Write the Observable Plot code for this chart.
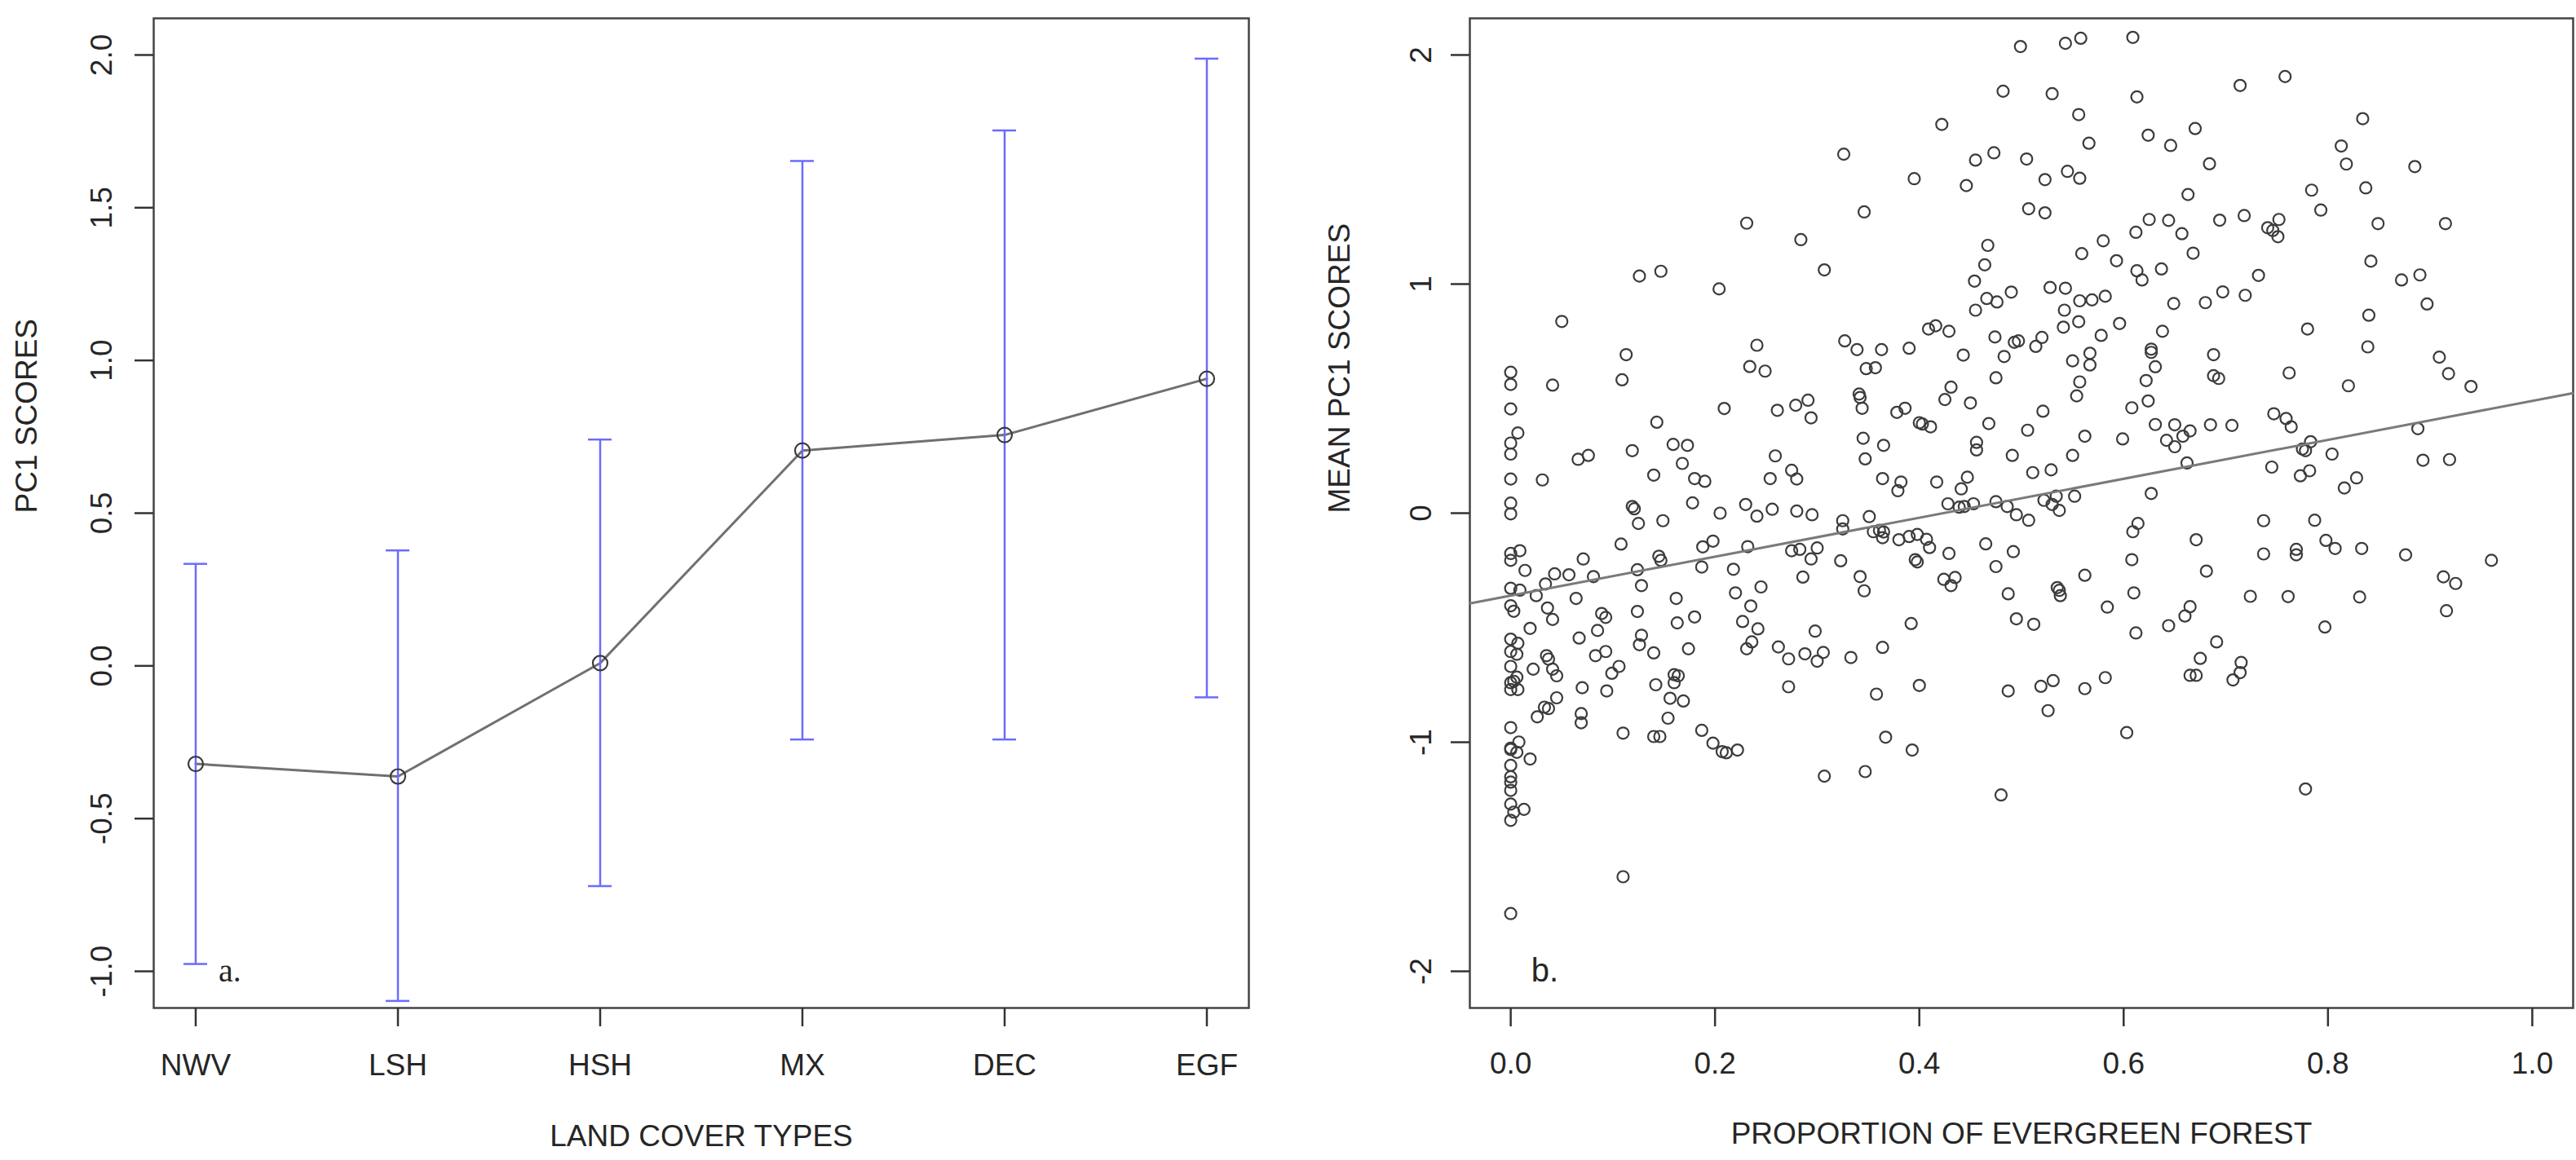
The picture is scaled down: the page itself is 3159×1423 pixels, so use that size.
<!DOCTYPE html>
<html><head><meta charset="utf-8">
<script src="https://cdn.jsdelivr.net/npm/d3@7"></script>
<script src="https://cdn.jsdelivr.net/npm/@observablehq/plot@0.6"></script>
<style>
html,body{margin:0;padding:0;background:#fff;}
#wrap{position:relative;width:3159px;height:1423px;overflow:hidden;background:#fff;}
#pa{position:absolute;left:0;top:0;width:1600px;height:1423px;}
#pb{position:absolute;left:1600px;top:0;width:1559px;height:1423px;}
</style></head>
<body><div id="wrap"><div id="pa"></div><div id="pb"></div></div>
<script>
// ---- Panel a: PC1 scores by land cover type ----
const landCover = ["NWV","LSH","HSH","MX","DEC","EGF"];
const pc1Mean  = [-0.321,-0.362,0.009,0.705,0.756,0.940];
const pc1Lower = [-0.976,-1.097,-0.721,-0.241,-0.241,-0.103];
const pc1Upper = [0.334,0.378,0.741,1.653,1.753,1.988];
const leftYTicks = [-1,-0.5,0,0.5,1,1.5,2];

// ---- Panel b: mean PC1 score vs proportion of evergreen forest ----
const evergreen = [
 0.326,0.231,0.284,0.307,0.126,0.147,0.204,0.050,0.241,0.327,
 0.499,0.543,0.558,0.609,0.482,0.530,0.613,0.556,0.422,0.624,
 0.566,0.646,0.473,0.455,0.505,0.395,0.446,0.545,0.557,0.523,
 0.663,0.346,0.507,0.523,0.625,0.644,0.612,0.657,0.580,0.467,
 0.559,0.593,0.464,0.613,0.618,0.637,0.454,0.528,0.543,0.466,
 0.476,0.490,0.582,0.569,0.557,0.542,0.649,0.455,0.556,0.541,
 0.596,0.409,0.416,0.429,0.474,0.497,0.493,0.520,0.578,0.638,
 0.714,0.758,0.670,0.834,0.813,0.818,0.885,0.684,0.784,0.837,
 0.694,0.718,0.752,0.741,0.746,0.751,0.793,0.849,0.915,0.668,
 0.842,0.732,0.697,0.719,0.680,0.872,0.890,0.897,0.840,0.780,
 0.113,0,0,0.041,0.109,0.234,0.249,0,0.209,0.261,
 0.279,0.291,0.294,0.143,0.007,0,0,0.066,0.076,0.119,
 0.159,0.173,0.168,0.259,0,0.031,0.140,0.180,0.190,0.254,
 0.275,0.280,0,0,0.119,0.121,0.125,0.149,0.178,0.205,
 0.230,0.241,0.256,0.280,0.295,0.325,0.325,0.108,0,0.009,
 0,0.071,0.145,0.147,0.188,0.198,0.232,0.275,0.283,0.300,
 0.294,0.323,0.014,0.043,0.057,0.081,0.124,0.187,0.218,0.286,
 0,0.009,0.034,0.025,0.064,0.128,0.162,0.220,0.245,0.235,
 0,0.003,0.036,0.041,0.089,0.093,0.124,0.180,0.163,0.227,
 0.242,0.298,0.019,0.085,0,0.007,0,0.006,0.067,0.128,
 0.126,0.236,0.231,0.262,0.272,0.288,0.306,0.300,0.035,0.037,
 0.083,0.093,0.140,0.174,
 0.339,0.363,0.390,0.443,0.483,0.514,0.567,0.627,0.627,0.348,
 0.357,0.475,0.550,0.567,0.631,0.341,0.342,0.344,0.378,0.386,
 0.400,0.403,0.411,0.431,0.425,0.450,0.468,0.521,0.557,0.554,
 0.622,0.624,0.608,0.631,0.650,0.642,0.650,0.658,0.345,0.365,
 0.347,0.456,0.456,0.506,0.562,0.599,0.491,0.550,0.662,0.364,
 0.382,0.379,0.417,0.447,0.441,0.511,0.529,0.552,0.627,0.351,
 0.428,0.439,0.444,0.453,0.475,0.486,0.495,0.507,0.522,0.534,
 0.530,0.537,0.614,0.609,0.355,0.361,0.365,0.364,0.380,0.390,
 0.398,0.407,0.410,0.465,0.492,0.429,0.396,0.398,0.475,0.608,
 0.342,0.346,0.424,0.435,0.431,0.487,0.562,0.535,0.537,0.538,
 0.610,0.584,0.660,0.392,0.495,0.512,0.612,0.644,0.364,0.333,
 0.688,0.839,0.909,0.688,0.693,0.762,0.820,0.918,0.940,0.665,
 0.685,0.706,0.747,0.759,0.764,0.783,0.778,0.775,0.804,0.888,
 0.745,0.773,0.782,0.816,0.828,0.893,0.919,0.737,0.787,0.671,
 0.798,0.807,0.833,0.737,0.769,0.769,0.876,0.960,0.681,0.913,
 0.925,0.724,0.761,0.831,0.916,0.665,0.797,0.691,0.675,0.715,
 0,0.022,0.041,0.045,0.106,0.099,0,0.003,0.006,0,
 0.007,0.070,0.094,0.045,0.033,0.037,0.026,0.069,0.069,0.142,
 0.160,0.164,0.160,0.156,0.169,0.154,0.110,0.140,0.146,0.187,
 0.198,0.207,0.211,0.222,0.272,0.307,0,0.008,0,0,
 0.006,0.019,0,0,0,0,0,0.003,0.013,0,
 0.110,0,
 0.358,0.400,0.487,0.519,0.531,0.562,0.582,0.526,0.603,0.367,0.393,0.347,0.480,
 0.665,0.671,0.714,0.707,0.778
];
const meanPC1 = [
 1.567,1.266,1.194,1.062,1.035,1.056,0.979,0.837,0.733,0.752,
 2.037,2.051,2.073,2.077,1.842,1.831,1.817,1.740,1.697,1.650,
 1.615,1.605,1.573,1.541,1.546,1.460,1.430,1.492,1.462,1.456,
 1.391,1.315,1.329,1.311,1.282,1.278,1.226,1.220,1.189,1.169,
 1.133,1.102,1.084,1.058,1.018,1.066,1.013,0.985,0.982,0.937,
 0.922,0.965,0.947,0.931,0.927,0.886,0.915,0.886,0.836,0.812,
 0.828,0.804,0.818,0.794,0.769,0.752,0.746,0.767,0.776,0.794,
 1.867,1.906,1.679,1.722,1.603,1.524,1.513,1.525,1.410,1.420,
 1.279,1.299,1.282,1.246,1.234,1.207,1.323,1.264,1.264,1.135,
 1.100,1.038,0.966,0.951,0.919,1.018,1.040,0.913,0.864,0.804,
 0.692,0.615,0.562,0.559,0.582,0.640,0.620,0.455,0.457,0.449,
 0.471,0.493,0.416,0.397,0.350,0.306,0.258,0.235,0.252,0.273,
 0.300,0.296,0.217,0.250,0.149,0.145,0.166,0.151,0.139,0.151,
 0.187,0.149,0.044,-0.003,0.029,0.019,-0.045,-0.033,0.045,0.000,
 0.038,-0.013,0.017,0.009,-0.007,-0.033,-0.069,-0.135,-0.176,-0.164,
 -0.206,-0.200,-0.188,-0.206,-0.147,-0.122,-0.146,-0.164,-0.158,-0.152,
 -0.200,-0.208,-0.250,-0.265,-0.269,-0.277,-0.247,-0.235,-0.245,-0.279,
 -0.328,-0.336,-0.309,-0.360,-0.372,-0.316,-0.372,-0.348,-0.322,-0.405,
 -0.404,-0.428,-0.414,-0.464,-0.438,-0.455,-0.429,-0.453,-0.479,-0.473,
 -0.505,-0.515,-0.503,-0.512,-0.550,-0.568,-0.604,-0.616,-0.545,-0.533,
 -0.574,-0.562,-0.592,-0.584,-0.636,-0.614,-0.608,-0.646,-0.622,-0.637,
 -0.622,-0.604,-0.610,-0.592,
 0.714,0.714,0.720,0.690,0.684,0.728,0.698,0.716,0.702,0.631,
 0.635,0.591,0.665,0.647,0.639,0.520,0.505,0.458,0.440,0.458,
 0.395,0.389,0.377,0.550,0.496,0.481,0.391,0.445,0.573,0.512,
 0.579,0.490,0.460,0.387,0.386,0.318,0.290,0.336,0.327,0.296,
 0.237,0.309,0.276,0.362,0.336,0.324,0.252,0.252,0.219,0.151,
 0.136,0.098,0.136,0.157,0.106,0.177,0.189,0.074,0.086,-0.015,
 0.041,0.026,0.029,0.041,0.050,0.029,-0.007,-0.031,0.056,0.074,
 0.038,0.012,-0.045,-0.081,-0.081,-0.075,-0.082,-0.107,-0.116,-0.102,
 -0.093,-0.114,-0.150,-0.134,-0.168,-0.176,-0.203,-0.213,-0.233,-0.203,
 -0.277,-0.339,-0.289,-0.281,-0.316,-0.352,-0.271,-0.325,-0.337,-0.360,
 -0.348,-0.410,-0.449,-0.482,-0.461,-0.485,-0.523,-0.491,-0.586,-0.630,
 0.692,0.726,0.681,0.600,0.588,0.612,0.556,0.609,0.553,0.359,
 0.386,0.383,0.434,0.413,0.377,0.312,0.273,0.280,0.258,0.369,
 0.201,0.163,0.185,0.110,0.154,0.231,0.234,-0.033,-0.031,-0.116,
 -0.119,-0.154,-0.154,-0.178,-0.158,-0.182,-0.182,-0.206,-0.253,-0.278,
 -0.307,-0.363,-0.364,-0.366,-0.426,-0.408,-0.497,-0.562,-0.634,-0.652,
 -0.669,-0.681,-0.681,-0.710,-0.669,-0.699,-0.740,-0.734,-0.716,-0.770,
 -0.770,-0.762,-0.776,-0.806,-0.847,-0.853,-0.889,-0.875,-0.915,-0.749,
 -0.705,-0.710,-0.740,-0.808,-0.820,-0.895,-0.960,-0.975,-0.975,-0.948,
 -1.004,-1.041,-1.046,-1.034,-0.758,-1.148,-0.936,-0.999,-1.026,-1.032,
 -1.044,-1.073,-1.101,-1.151,-1.174,-1.210,-1.270,-1.305,-1.293,-1.341,
 -1.587,-1.748,
 -0.790,-0.752,-0.776,-0.756,-0.731,-0.766,-0.718,-0.862,-0.958,-0.978,-1.034,-1.128,-1.230,
 -0.708,-0.708,-0.696,-0.728,-1.204
];
const rightXTicks = [0,0.2,0.4,0.6,0.8,1];
const rightYTicks = [-2,-1,0,1,2];
const fitIntercept = -0.36;
const fitSlope = 0.85;

// ---- shared styling ----
const FONT = "'Liberation Sans', Arial, Helvetica, sans-serif";
const TXT = "#262626";
const baseStyle = {fontFamily: FONT, fontSize: "37px", color: TXT, background: "#fff", maxWidth: "none", overflow: "visible"};
const H = 1423, MT = 22, MB = 187;
const AXIS = "#333", FRAME = "#444";

// ---- Panel a ----
const leftData = landCover.map((c, i) => ({c, mean: pc1Mean[i], lo: pc1Lower[i], hi: pc1Upper[i]}));
const yDomA = [-1.12, 2.12];
const BLUE = "#6b6bff";
const plotA = Plot.plot({
  width: 1600, height: H,
  marginLeft: 188, marginRight: 69, marginTop: MT, marginBottom: MB,
  style: baseStyle,
  x: {type: "band", domain: landCover, paddingInner: 0.885, paddingOuter: 0.144, align: 0.5, axis: null},
  y: {domain: yDomA, axis: null},
  marks: [
    Plot.frame({stroke: FRAME, strokeWidth: 2.5}),
    Plot.axisX(landCover, {tickSize: 23, tickFormat: () => "", label: null, stroke: AXIS, strokeWidth: 2.5}),
    Plot.axisY(leftYTicks, {tickSize: 23, tickFormat: () => "", label: null, stroke: AXIS, strokeWidth: 2.5}),
    Plot.text(landCover, {x: d => d, text: d => d, frameAnchor: "bottom", dy: 71, lineAnchor: "middle", fill: TXT}),
    Plot.text(leftYTicks, {y: d => d, text: d => d.toFixed(1), frameAnchor: "left", dx: -63, rotate: -90, textAnchor: "middle", lineAnchor: "middle", fill: TXT}),
    Plot.text(["LAND COVER TYPES"], {frameAnchor: "bottom", dy: 158, lineAnchor: "middle", fill: TXT}),
    Plot.text(["PC1 SCORES"], {frameAnchor: "left", dx: -155, rotate: -90, lineAnchor: "middle", fill: TXT}),
    Plot.line(leftData, {x: "c", y: "mean", stroke: "#707070", strokeWidth: 3}),
    Plot.ruleX(leftData, {x: "c", y1: "lo", y2: "hi", stroke: BLUE, strokeWidth: 2.5}),
    Plot.tickY(leftData, {x: "c", y: "hi", stroke: BLUE, strokeWidth: 2.5}),
    Plot.tickY(leftData, {x: "c", y: "lo", stroke: BLUE, strokeWidth: 2.5}),
    Plot.dot(leftData, {x: "c", y: "mean", r: 9, stroke: "#3a3a3a", strokeWidth: 2.2, fill: "none"}),
    Plot.text(["a."], {x: () => landCover[0], y: () => -1, dx: 28, textAnchor: "start", lineAnchor: "middle", fontFamily: "'Liberation Serif', 'Times New Roman', serif", fontSize: 40, fill: TXT})
  ]
});
document.getElementById("pa").appendChild(plotA);

// ---- Panel b ----
const xDomB = [-0.04, 1.04];
const yDomB = [-2.16, 2.16];
const pts = evergreen.map((x, i) => ({x, y: meanPC1[i]}));
const fitLine = xDomB.map(x => ({x, y: fitIntercept + fitSlope * x}));
const plotB = Plot.plot({
  width: 1559, height: H,
  marginLeft: 202, marginRight: 4, marginTop: MT, marginBottom: MB,
  style: baseStyle,
  x: {domain: xDomB, axis: null},
  y: {domain: yDomB, axis: null},
  marks: [
    Plot.frame({stroke: FRAME, strokeWidth: 2.5}),
    Plot.axisX(rightXTicks, {tickSize: 23, tickFormat: () => "", label: null, stroke: AXIS, strokeWidth: 2.5}),
    Plot.axisY(rightYTicks, {tickSize: 23, tickFormat: () => "", label: null, stroke: AXIS, strokeWidth: 2.5}),
    Plot.text(rightXTicks, {x: d => d, text: d => d.toFixed(1), frameAnchor: "bottom", dy: 69, lineAnchor: "middle", fill: TXT}),
    Plot.text(rightYTicks, {y: d => d, text: d => String(d), frameAnchor: "left", dx: -59, rotate: -90, textAnchor: "middle", lineAnchor: "middle", fill: TXT}),
    Plot.text(["PROPORTION OF EVERGREEN FOREST"], {frameAnchor: "bottom", dy: 155, lineAnchor: "middle", fill: TXT}),
    Plot.text(["MEAN PC1 SCORES"], {frameAnchor: "left", dx: -159, rotate: -90, lineAnchor: "middle", fill: TXT}),
    Plot.dot(pts, {x: "x", y: "y", r: 7, stroke: "#3c3c3c", strokeWidth: 2.2, fill: "none"}),
    Plot.line(fitLine, {x: "x", y: "y", stroke: "#7a7a7a", strokeWidth: 3}),
    Plot.text(["b."], {x: () => 0.02, y: () => -2.0, textAnchor: "start", lineAnchor: "middle", fontSize: 40, fill: TXT})
  ]
});
document.getElementById("pb").appendChild(plotB);
</script>
</body></html>
